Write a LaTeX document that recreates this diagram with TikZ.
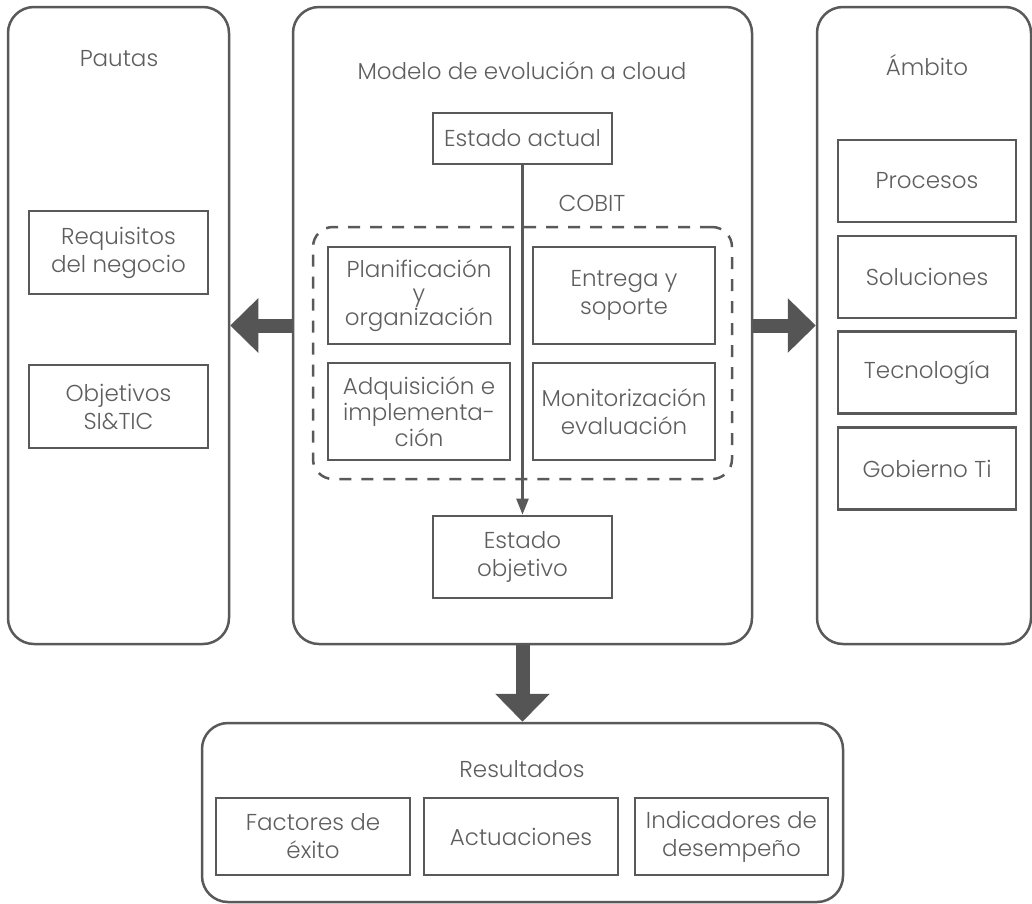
\documentclass[tikz,border=0pt]{standalone}
\usepackage{fontspec}
\IfFontExistsTF{Poppins Light}{\setmainfont{Poppins Light}}{\setmainfont{Poppins}}
\usetikzlibrary{arrows.meta}
\definecolor{linegray}{HTML}{595959}
\definecolor{textgray}{HTML}{5E5E5E}
\definecolor{arrowgray}{HTML}{555555}

\begin{document}
\begin{tikzpicture}[x=1pt,y=-1pt,
  txt/.style={font=\fontsize{23}{28}\selectfont,text=textgray,align=center,inner sep=0pt},
  panel/.style={draw=linegray,line width=2.5pt,rounded corners=26pt,inner sep=0pt},
  inbox/.style={txt,draw=linegray,line width=2.7pt,minimum width=179pt,minimum height=83pt},
  cobitbox/.style={draw=linegray,line width=2.5pt,rounded corners=20pt,
    dash pattern=on 12pt off 10pt,minimum width=419pt,minimum height=252pt},
  bigarrow/.style={draw=arrowgray,line width=14pt,-{Triangle[length=28pt,width=53pt]}},
  thinarrow/.style={draw=linegray,line width=2.5pt,-{Triangle[length=16pt,width=12pt]}},
]
\useasboundingbox (0,0) rectangle (1032,903);

% panels
\node[panel,minimum width=221pt,minimum height=637pt] (pautas) at (118.5,325.5) {};
\node[panel,minimum width=459pt,minimum height=637pt] (model) at (522.5,325.5) {};
\node[panel,minimum width=214pt,minimum height=637pt] (ambito) at (924,325.5) {};
\node[panel,minimum width=641pt,minimum height=179pt] (result) at (522.5,812.5) {};

% titles
\node[txt,anchor=base] (pautasT) at (119,66) {Pautas};
\node[txt,anchor=base] (modelT) at (522,79) {Modelo de evolución a cloud};
\node[txt,anchor=base] (ambitoT) at (927,75) {Ámbito};
\node[txt,anchor=base] (cobitT) at (592,211) {COBIT};
\node[txt,anchor=base] (resultT) at (522,777) {Resultados};

% pautas
\node[inbox] (req) at (118.5,252.5) {Requisitos\\del negocio};
\node[inbox] (obj) at (118.5,406.5) {Objetivos\\SI\&TIC};

% modelo
\node[inbox,minimum height=51pt] (actual) at (522.5,138.5) {Estado actual};
\node[cobitbox] (cobit) at (522.5,353) {};
\node[inbox,minimum width=182pt,minimum height=97pt] (plan) at (419,295.5)
  {Planificación\\[-4pt]y\\[-4pt]organización};
\node[inbox,minimum width=182pt,minimum height=97pt] (entrega) at (624,295.5)
  {Entrega y\\soporte};
\node[inbox,minimum width=182pt,minimum height=97pt] (adq) at (419,411.5)
  {Adquisición e\\[-2pt]implementa-\\[-2pt]ción};
\node[inbox,minimum width=182pt,minimum height=97pt] (monit) at (624,411.5)
  {Monitorización\\evaluación};
\node[inbox,minimum height=82pt] (goal) at (522.5,557) {Estado\\objetivo};

% ambito
\node[inbox,minimum width=178pt,minimum height=82pt] (proc) at (927,181) {Procesos};
\node[inbox,minimum width=178pt,minimum height=82pt] (sol) at (927,277) {Soluciones};
\node[inbox,minimum width=178pt,minimum height=82pt] (tec) at (927,372.5) {Tecnología};
\node[inbox,minimum width=178pt,minimum height=82pt] (gob) at (927,468.5) {Gobierno Ti};

% resultados
\node[inbox,minimum width=194pt,minimum height=77pt] (fact) at (313,836.5) {Factores de\\éxito};
\node[inbox,minimum width=194pt,minimum height=77pt] (act) at (521,836.5) {Actuaciones};
\node[inbox,minimum width=193pt,minimum height=77pt] (ind) at (731.5,836.5) {Indicadores de\\desempeño};

% arrows
\draw[thinarrow] (actual.south) -- (goal.north);
\draw[bigarrow] (model.west) -- (pautas.east);
\draw[bigarrow] (model.east) -- (ambito.west);
\draw[bigarrow] (model.south) -- (result.north);
\end{tikzpicture}
\end{document}
